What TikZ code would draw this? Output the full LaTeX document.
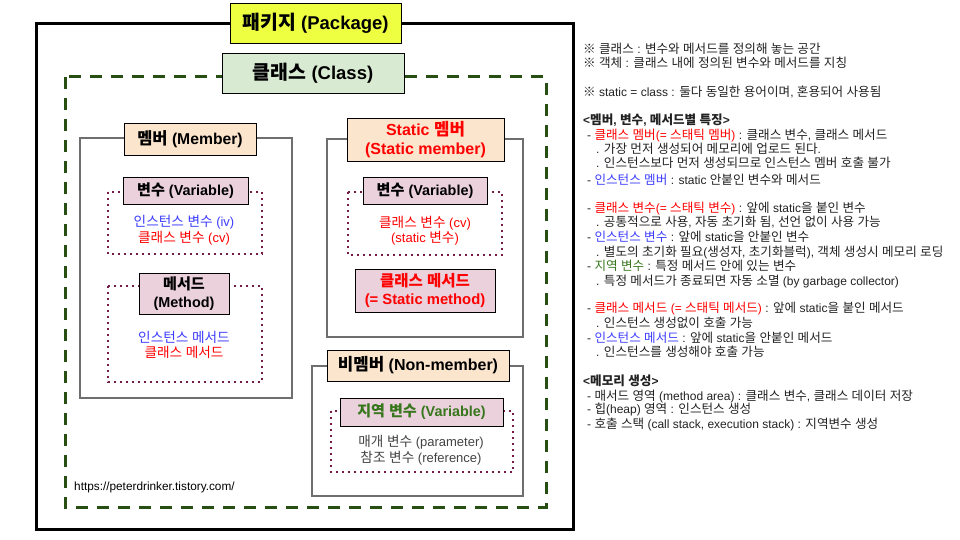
\documentclass[tikz,border=0pt]{standalone}
\usepackage{fontspec}
\setmainfont{Liberation Sans}
\newfontfamily\krfont[Scale=1.05]{Noto Sans CJK KR}
\XeTeXinterchartokenstate=1
\newXeTeXintercharclass\hgclass
\newcount\hgcnt
\hgcnt="AC00
\loop\ifnum\hgcnt<"D7A4 \XeTeXcharclass\hgcnt=\hgclass \advance\hgcnt by 1 \repeat
\XeTeXcharclass"203B=\hgclass
\XeTeXinterchartoks 0 \hgclass={\krfont}
\XeTeXinterchartoks 4095 \hgclass={\krfont}
\XeTeXinterchartoks \hgclass 0={\rmfamily}
\XeTeXinterchartoks \hgclass 4095={\rmfamily}

\definecolor{pkgyellow}{HTML}{EEFF41}
\definecolor{clsgreen}{HTML}{D9EAD3}
\definecolor{peach}{HTML}{FCE5CD}
\definecolor{pinkbox}{HTML}{EAD1DC}
\definecolor{dgreen}{HTML}{274E13}
\definecolor{plum}{HTML}{741B47}
\definecolor{txtred}{HTML}{FF0000}
\definecolor{txtblue}{HTML}{3C3CFF}
\definecolor{lvgreen}{HTML}{38761D}
\definecolor{frgray}{HTML}{6E6E6E}
\definecolor{notetext}{HTML}{222222}
\definecolor{graytext}{HTML}{434343}

\tikzset{
  lbl/.style={draw=black, line width=0.8pt, inner sep=0pt, align=center,
    font=\bfseries\fontsize{14.4}{18.5}\selectfont},
  bigl/.style={lbl, font=\bfseries\fontsize{18.5}{22}\selectfont},
  memframe/.style={draw=frgray, line width=1.6pt},
  dotframe/.style={draw=plum, line width=1.7pt, dash pattern=on 1.7pt off 4.3pt},
  clsframe/.style={draw=dgreen, line width=3pt, dash pattern=on 12pt off 9pt},
  inner/.style={inner sep=0pt, align=center, font=\fontsize{13}{16}\selectfont},
  note/.style={anchor=base west, inner sep=0pt, text=notetext, font=\fontsize{12}{14}\selectfont},
}

\begin{document}
\begin{tikzpicture}[x=1pt,y=-1pt]
\useasboundingbox (0,0) rectangle (960,540);

% frames
\draw[line width=3pt] (36,24) rectangle (573,529);
\draw[clsframe] (65,77) rectangle (546,507);
\draw[memframe] (80,138) rectangle (292,398);
\draw[dotframe] (108,192) rectangle (262,254);
\draw[dotframe] (108,286) rectangle (262,382);
\draw[memframe] (327,139) rectangle (523,337);
\draw[dotframe] (348,192) rectangle (502,255);
\draw[memframe] (312,366) rectangle (523,496);
\draw[dotframe] (331,411) rectangle (513,472);

% labels
\node[bigl, fill=pkgyellow, minimum width=171pt, minimum height=40pt] (pkg) at (315.5,23) {패키지 (Package)};
\node[bigl, fill=clsgreen, minimum width=182pt, minimum height=40pt] (cls) at (313,73) {클래스 (Class)};

\node[lbl, fill=peach, minimum width=132pt, minimum height=32pt, font=\bfseries\fontsize{15.7}{18}\selectfont] (mem) at (190,139) {멤버 (Member)};
\node[lbl, fill=pinkbox, minimum width=125pt, minimum height=27pt] (var1) at (185.5,190.5) {변수 (Variable)};
\node[inner, text=txtblue] (iv) at (184,222) {인스턴스 변수 (iv)};
\node[inner, text=txtred] (cv) at (184,238) {클래스 변수 (cv)};
\node[lbl, fill=pinkbox, minimum width=90pt, minimum height=41pt] (meth) at (184,293.5) {메서드\\(Method)};
\node[inner, text=txtblue] (im) at (184,337) {인스턴스 메서드};
\node[inner, text=txtred] (cm) at (184,352) {클래스 메서드};

\node[lbl, fill=peach, text=txtred, minimum width=157pt, minimum height=43pt, font=\bfseries\fontsize{16}{19}\selectfont] (smem) at (425.5,139.5) {Static 멤버\\(Static member)};
\node[lbl, fill=pinkbox, minimum width=124pt, minimum height=27pt] (var2) at (425,190.5) {변수 (Variable)};
\node[inner, text=txtred] (cv2) at (425,223) {클래스 변수 (cv)};
\node[inner, text=txtred] (sv) at (425,238) {(static 변수)};
\node[lbl, fill=pinkbox, text=txtred, minimum width=140pt, minimum height=43pt, font=\bfseries\fontsize{14.8}{18.5}\selectfont] (smeth) at (425,290.5) {클래스 메서드\\(= Static method)};

\node[lbl, fill=peach, minimum width=182pt, minimum height=31pt, font=\bfseries\fontsize{16}{18}\selectfont] (nmem) at (418,365.5) {비멤버 (Non-member)};
\node[lbl, fill=pinkbox, text=lvgreen, minimum width=163pt, minimum height=28pt] (lvar) at (421.5,412) {지역 변수 (Variable)};
\node[inner, text=graytext] (par) at (421,442) {매개 변수 (parameter)};
\node[inner, text=graytext] (ref) at (421,458) {참조 변수 (reference)};

\node[anchor=west, inner sep=0pt, font=\fontsize{11.8}{14}\selectfont] (url) at (74,487) {https://peterdrinker.tistory.com/};

% notes
\node[note] (n1) at (583,54) {※ 클래스 : 변수와 메서드를 정의해 놓는 공간};
\node[note] (n2) at (583,67.7) {※ 객체 : 클래스 내에 정의된 변수와 메서드를 지칭};
\node[note] (n3) at (583,96.7) {※ static = class : 둘다 동일한 용어이며, 혼용되어 사용됨};
\node[note, font=\bfseries\fontsize{12}{14}\selectfont] (n4) at (583,124.7) {<멤버, 변수, 메서드별 특징>};
\node[note] (n5) at (587,140) {- \textcolor{txtred}{클래스 멤버(= 스태틱 멤버)} : 클래스 변수, 클래스 메서드};
\node[note] (n6) at (596,153.5) {. 가장 먼저 생성되어 메모리에 업로드 된다.};
\node[note] (n7) at (596,167.5) {. 인스턴스보다 먼저 생성되므로 인스턴스 멤버 호출 불가};
\node[note] (n8) at (587,184) {- \textcolor{txtblue}{인스턴스 멤버} : static 안붙인 변수와 메서드};
\node[note] (n9) at (587,212) {- \textcolor{txtred}{클래스 변수(= 스태틱 변수)} : 앞에 static을 붙인 변수};
\node[note] (n10) at (596,226) {. 공통적으로 사용, 자동 초기화 됨, 선언 없이 사용 가능};
\node[note] (n11) at (587,241) {- \textcolor{txtblue}{인스턴스 변수} : 앞에 static을 안붙인 변수};
\node[note] (n12) at (596,256) {. 별도의 초기화 필요(생성자, 초기화블럭), 객체 생성시 메모리 로딩};
\node[note] (n13) at (587,270) {- \textcolor{lvgreen}{지역 변수} : 특정 메서드 안에 있는 변수};
\node[note] (n14) at (596,285) {. 특정 메서드가 종료되면 자동 소멸 (by garbage collector)};
\node[note] (n15) at (587,312) {- \textcolor{txtred}{클래스 메서드 (= 스태틱 메서드)} : 앞에 static을 붙인 메서드};
\node[note] (n16) at (596,327) {. 인스턴스 생성없이 호출 가능};
\node[note] (n17) at (587,342) {- \textcolor{txtblue}{인스턴스 메서드} : 앞에 static을 안붙인 메서드};
\node[note] (n18) at (596,356) {. 인스턴스를 생성해야 호출 가능};
\node[note, font=\bfseries\fontsize{12}{14}\selectfont] (n19) at (583,385) {<메모리 생성>};
\node[note] (n20) at (587,400) {- 매서드 영역 (method area) : 클래스 변수, 클래스 데이터 저장};
\node[note] (n21) at (587,413.5) {- 힙(heap) 영역 : 인스턴스 생성};
\node[note] (n22) at (587,428) {- 호출 스택 (call stack, execution stack) : 지역변수 생성};
\end{tikzpicture}
\end{document}
